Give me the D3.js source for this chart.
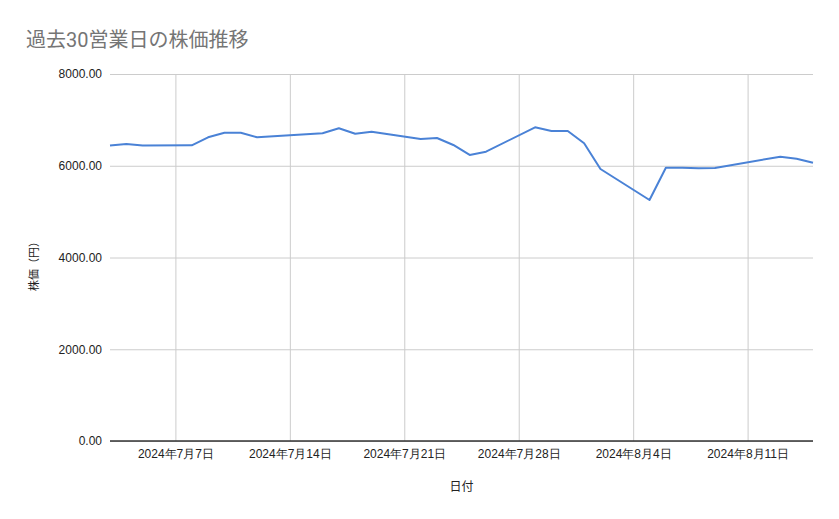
<!DOCTYPE html>
<html lang="ja">
<head>
    <meta charset="UTF-8">
    <title>過去30営業日の株価推移</title>
    <script src="https://d3js.org/d3.v7.min.js"></script>
    <style>
        body {
            margin: 0;
            background: #fff;
            font-family: "Liberation Sans", Arial, "Noto Sans CJK JP", sans-serif;
        }
        svg { display: block; }
    </style>
</head>
<body>
    <svg width="839" height="519"></svg>
    <script>
        // 30 business days (Jul 15 and Aug 12 are holidays)
        const dates = [
            "2024-07-03", "2024-07-04", "2024-07-05",
            "2024-07-08", "2024-07-09", "2024-07-10", "2024-07-11", "2024-07-12",
            "2024-07-16", "2024-07-17", "2024-07-18", "2024-07-19",
            "2024-07-22", "2024-07-23", "2024-07-24", "2024-07-25", "2024-07-26",
            "2024-07-29", "2024-07-30", "2024-07-31", "2024-08-01", "2024-08-02",
            "2024-08-05", "2024-08-06", "2024-08-07", "2024-08-08", "2024-08-09",
            "2024-08-13", "2024-08-14", "2024-08-15"
        ];
        const prices = [
            6440, 6474, 6440,
            6446, 6620, 6720, 6720, 6620,
            6707, 6816, 6699, 6743,
            6584, 6605, 6453, 6235, 6307,
            6838, 6758, 6758, 6490, 5929,
            5253, 5958, 5955, 5945, 5951,
            6198, 6154, 6067
        ];
        const tickDates = ["2024-07-07", "2024-07-14", "2024-07-21", "2024-07-28", "2024-08-04", "2024-08-11"];
        const yTicks = [0, 2000, 4000, 6000, 8000];

        const parse = d3.timeParse("%Y-%m-%d");
        const data = dates.map((d, i) => ({date: parse(d), value: prices[i]}));

        const svg = d3.select("svg");
        const margin = {top: 74, right: 26, bottom: 78, left: 110};
        const width = 839, height = 519;

        const x = d3.scaleTime()
            .domain(d3.extent(data, d => d.date))
            .range([margin.left, width - margin.right]);
        const y = d3.scaleLinear()
            .domain([0, 8000])
            .range([height - margin.bottom, margin.top]);

        // title
        svg.append("text")
            .attr("x", 26)
            .attr("y", 47)
            .attr("fill", "#757575")
            .style("font-family", "Roboto, 'Noto Sans CJK JP', sans-serif")
            .style("font-size", "20px")
            .text("過去30営業日の株価推移");

        // horizontal grid + y labels
        const yAxis = svg.append("g")
            .attr("transform", `translate(${margin.left},0)`)
            .call(d3.axisLeft(y)
                .tickValues(yTicks)
                .tickSize(-(width - margin.left - margin.right))
                .tickPadding(8)
                .tickFormat(d3.format(".2f")));
        yAxis.select(".domain").remove();
        yAxis.selectAll(".tick line").attr("stroke", "#cccccc");
        yAxis.selectAll(".tick text")
            .attr("fill", "#222")
            .style("font-size", "12px");

        // vertical grid + x labels
        const fmt = d3.timeFormat("%Y年%-m月%-d日");
        const xAxis = svg.append("g")
            .attr("transform", `translate(0,${height - margin.bottom})`)
            .call(d3.axisBottom(x)
                .tickValues(tickDates.map(parse))
                .tickSize(-(height - margin.top - margin.bottom))
                .tickPadding(8)
                .tickFormat(fmt));
        xAxis.select(".domain").remove();
        xAxis.selectAll(".tick line").attr("stroke", "#cccccc");
        xAxis.selectAll(".tick text")
            .attr("fill", "#222")
            .style("font-size", "12px");

        // baseline at zero
        svg.append("line")
            .attr("x1", margin.left)
            .attr("x2", width - margin.right)
            .attr("y1", y(0))
            .attr("y2", y(0))
            .attr("stroke", "#333")
            .attr("stroke-width", 1.5);

        // price line
        svg.append("path")
            .datum(data)
            .attr("fill", "none")
            .attr("stroke", "#4a82d6")
            .attr("stroke-width", 2)
            .attr("stroke-linejoin", "round")
            .attr("d", d3.line().x(d => x(d.date)).y(d => y(d.value)));

        // axis titles
        svg.append("text")
            .attr("x", (margin.left + width - margin.right) / 2)
            .attr("y", 491)
            .attr("text-anchor", "middle")
            .attr("fill", "#222")
            .style("font-size", "12px")
            .text("日付");

        svg.append("text")
            .attr("transform", `translate(38,${(margin.top + height - margin.bottom) / 2 + 6}) rotate(-90)`)
            .attr("text-anchor", "middle")
            .attr("fill", "#222")
            .style("font-size", "11px")
            .text("株価（円）");
    </script>
</body>
</html>
